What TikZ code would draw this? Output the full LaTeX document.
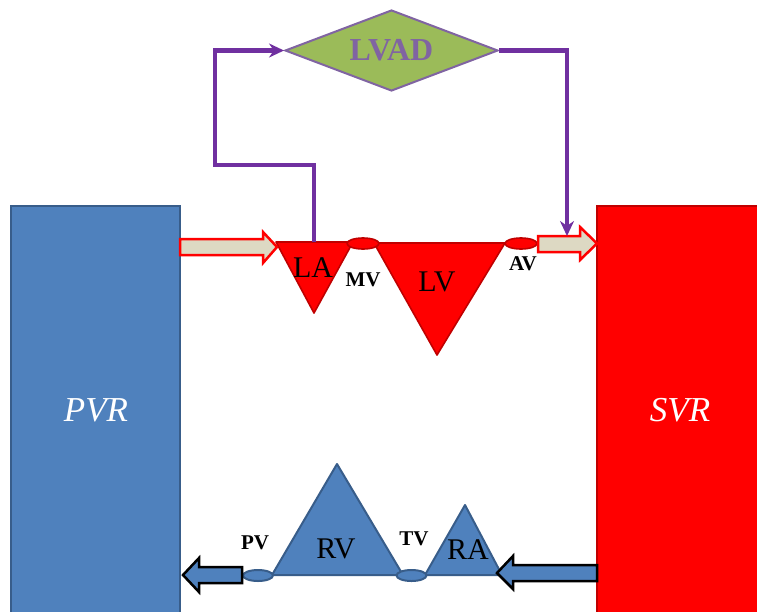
\documentclass[tikz,border=0pt]{standalone}
\usepackage{fontspec}
\setmainfont{Liberation Serif}
\usetikzlibrary{shapes.geometric,arrows.meta}

\definecolor{bodyblue}{HTML}{4F81BD}
\definecolor{edgeblue}{HTML}{385D8A}
\definecolor{edgered}{HTML}{C00000}
\definecolor{pumpgreen}{HTML}{9BBB59}
\definecolor{pumpedge}{HTML}{8064A2}
\definecolor{flowpurple}{HTML}{7030A0}
\definecolor{flowbeige}{HTML}{DDD9C3}

\begin{document}
\begin{tikzpicture}[
    x=1pt, y=-1pt,
    sysbox/.style={draw, line width=2.2pt, inner sep=0pt},
    systxt/.style={font=\fontsize{35}{37}\selectfont\itshape, text=white},
    leftside/.style={draw=edgered, fill=red, line width=1.6pt, line join=round},
    rightside/.style={draw=edgeblue, fill=bodyblue, line width=2pt, line join=round},
    chamber/.style={font=\fontsize{30}{32}\selectfont, inner sep=0pt},
    valvetxt/.style={font=\fontsize{21}{23}\selectfont\bfseries, inner sep=0pt},
    pump/.style={diamond, draw=pumpedge, fill=pumpgreen, line width=2pt,
                 minimum width=213pt, minimum height=81pt, aspect=2.63, inner sep=0pt,
                 font=\fontsize{32}{34}\selectfont\bfseries, text=pumpedge},
    oxyarrow/.style={draw=red, fill=flowbeige, line width=2.5pt, line join=miter},
    venarrow/.style={draw=black, fill=bodyblue, line width=2.5pt, line join=miter},
    lvadflow/.style={draw=flowpurple, line width=4.5pt,
                     -{Stealth[length=15pt, width=14pt]}}
]
\clip (0,0) rectangle (757,611);

% circulations
\node[sysbox, draw=edgeblue, fill=bodyblue, minimum width=169pt, minimum height=434pt] (pvr) at (95.5,423) {};
\node[sysbox, draw=edgered, fill=red, minimum width=200pt, minimum height=434pt] (svr) at (697,423) {};
\node[systxt] (pvrlbl) at (96,410) {PVR};
\node[systxt] (svrlbl) at (680,410) {SVR};

% left heart
\draw[leftside] (276,242) -- (353,242) -- (314,313) -- cycle;
\draw[leftside] (374,243) -- (505,243) -- (437,355) -- cycle;
\draw[leftside] (363,243.5) ellipse [x radius=16, y radius=5.5];
\draw[leftside] (521,243.5) ellipse [x radius=16, y radius=5.5];
\node[chamber] (la) at (313,268) {LA};
\node[chamber] (lv) at (437,282) {LV};
\node[valvetxt] (mv) at (363,280) {MV};
\node[valvetxt] (av) at (523,264) {AV};
\coordinate (latop) at (314,242);

% right heart
\draw[rightside] (243,575) -- (502,575);
\draw[rightside] (272,575) -- (337,464) -- (403,575) -- cycle;
\draw[rightside] (425,575) -- (465,505) -- (502,575) -- cycle;
\draw[rightside] (258,575.5) ellipse [x radius=15, y radius=5.5];
\draw[rightside] (411.5,575.5) ellipse [x radius=15, y radius=5.5];
\node[chamber] (rv) at (336,549) {RV};
\node[chamber] (ra) at (468,550) {RA};
\node[valvetxt] (pv) at (255,543) {PV};
\node[valvetxt] (tv) at (414,539) {TV};

% flow arrows
\draw[oxyarrow] (180,239) -- (263,239) -- (263,232) -- (277,247) -- (263,263) -- (263,255) -- (180,255) -- cycle;
\draw[oxyarrow] (538,236) -- (580,236) -- (580,227) -- (597,243.5) -- (580,260) -- (580,252) -- (538,252) -- cycle;
\draw[venarrow] (597,565) -- (513,565) -- (513,556) -- (497,573) -- (513,589) -- (513,581) -- (597,581) -- cycle;
\draw[venarrow] (242,567) -- (199,567) -- (199,558) -- (183,575) -- (199,592) -- (199,583) -- (242,583) -- cycle;

% LVAD
\node[pump] (lvad) at (391.5,50.5) {LVAD};
\coordinate (aodrop) at (567,236);
\draw[lvadflow] (latop) -- (314,165) -- (215,165) -- (215,50.5) -- (lvad.west);
\draw[lvadflow] (lvad.east) -- (567,50.5) -- (aodrop);

\end{tikzpicture}
\end{document}
